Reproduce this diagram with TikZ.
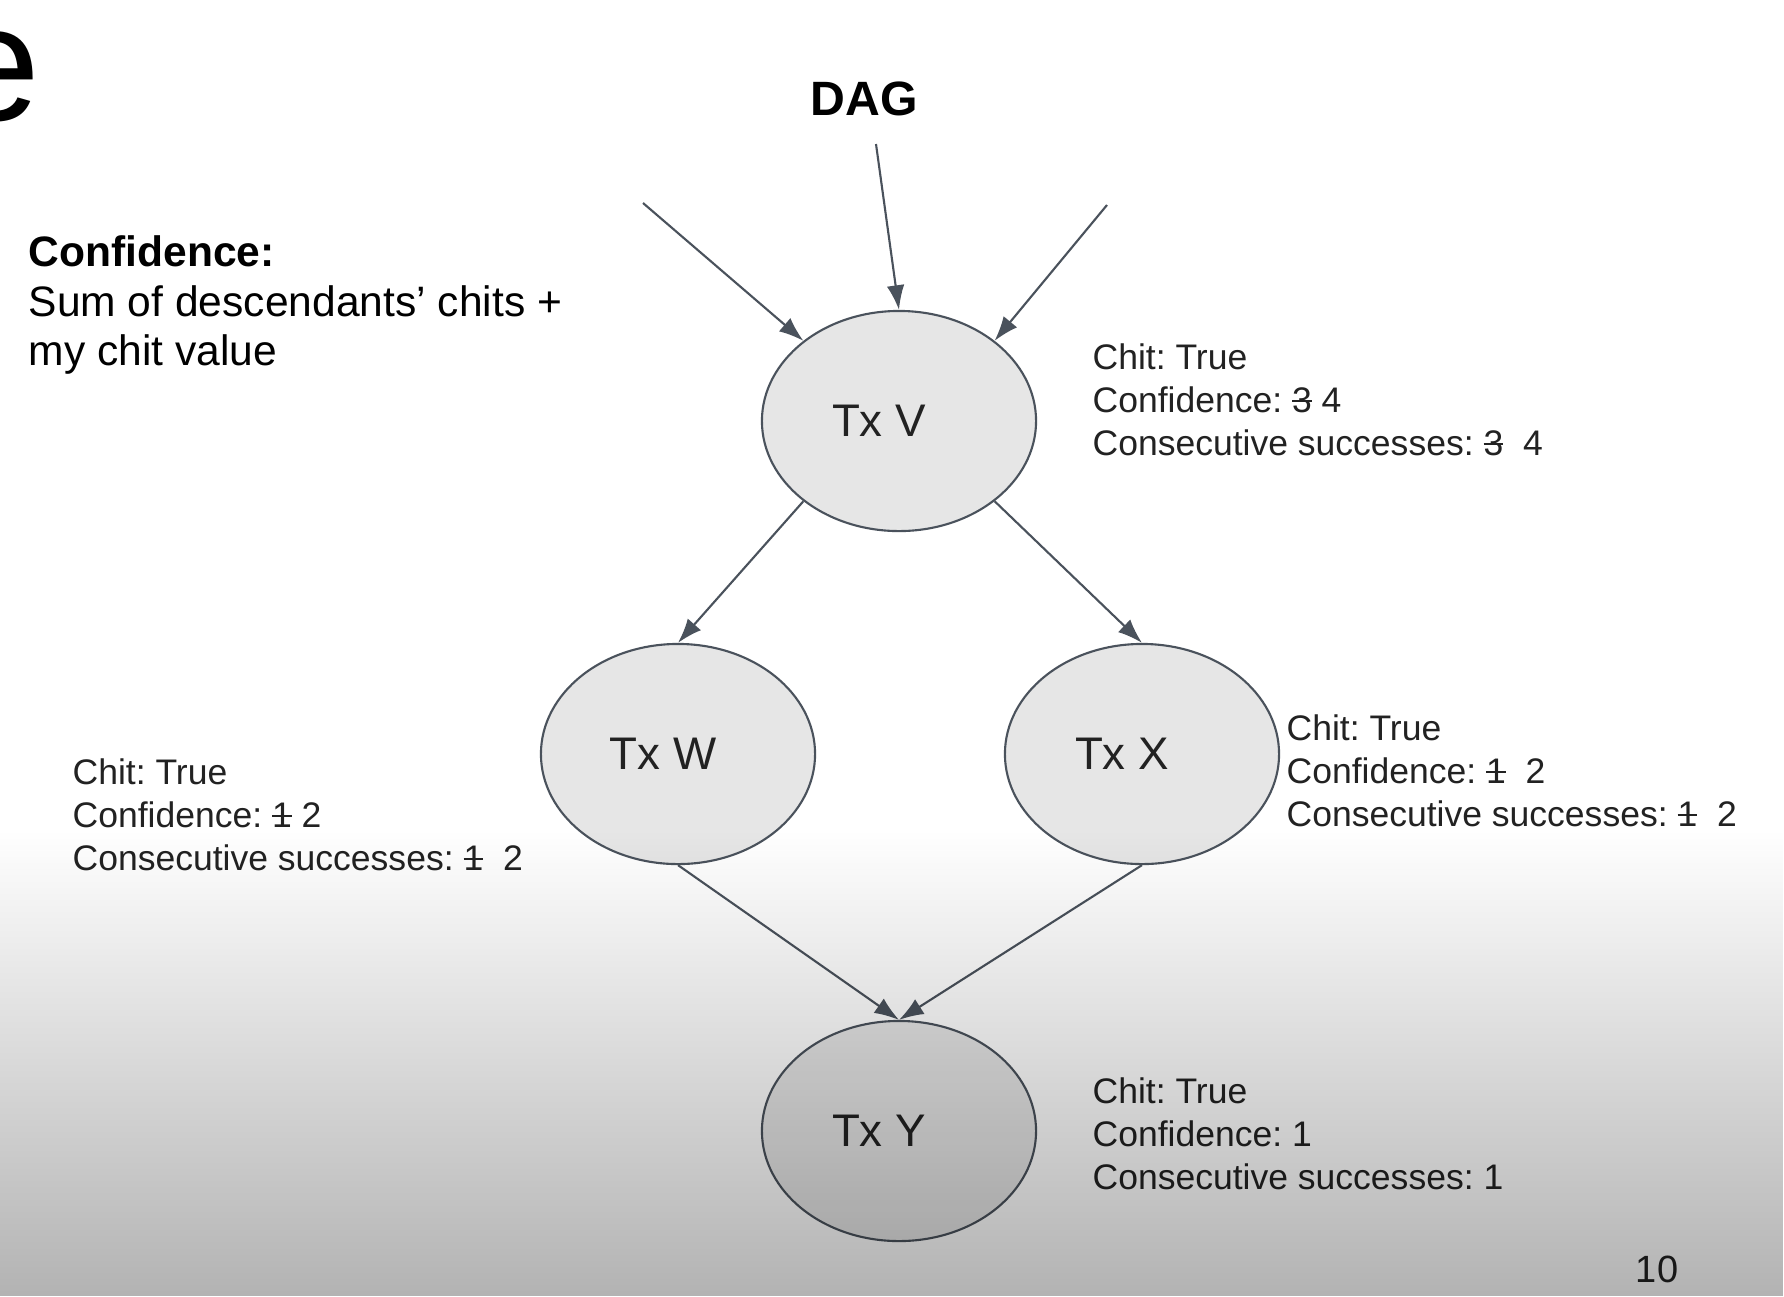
\documentclass[tikz,border=0pt]{standalone}
\usepackage{fontspec}
\setmainfont{Liberation Sans}
\usetikzlibrary{arrows.meta, shapes.geometric, fadings}

\definecolor{edgegray}{HTML}{4A525C}
\definecolor{txfill}{HTML}{E6E6E6}
\definecolor{inkgray}{HTML}{222222}

\frenchspacing
\newcommand{\struck}[1]{\rlap{\rule[0.3em]{0.556em}{0.06em}}#1}

\tikzfading[name = slidefade, top color = transparent!100, bottom color = transparent!70]

\tikzset{
	tx/.style = {ellipse, draw = edgegray, line width = 0.6pt, fill = txfill, text = inkgray,
		minimum width = 2.74cm, minimum height = 2.2cm, inner sep = 0pt, font = \fontsize{13}{15}\selectfont},
	info/.style = {anchor = west, align = left, inner sep = 0pt, text = inkgray, font = \fontsize{10.1}{12.2}\selectfont},
	link/.style = {draw = edgegray, line width = 0.6pt, -{Latex[length = 7pt, width = 5pt]}}
}

\begin{document}
\begin{tikzpicture}[x = 0.01cm, y = -0.01cm]
			\useasboundingbox (0,0) rectangle (1784,1296);
			\clip (0,0) rectangle (1784,1296);
			\fill [white] (0,0) rectangle (1784,1296);

			\begin{scope}
				\node [anchor = base east, inner sep = 0pt, font = \fontsize{47}{50}\selectfont] (title) at (41,120) {e};
				\node [inner sep = 0pt, font = \fontsize{13.7}{16}\selectfont\bfseries] (dag) at (864,99) {DAG};
				\node [info, text = black, font = \fontsize{12.1}{14.2}\selectfont] (rule) at (28,305) {\textbf{Confidence:}\\Sum of descendants’ chits +\\my chit value};
			\end{scope}

			\begin{scope}
				\node [tx] (V) at (899,421) {Tx V\hspace*{0.4cm}};
				\node [tx] (W) at (678,754) {Tx W\hspace*{0.3cm}};
				\node [tx] (X) at (1142,754) {Tx X\hspace*{0.4cm}};
				\node [tx] (Y) at (899,1131) {Tx Y\hspace*{0.4cm}};
			\end{scope}

			\coordinate (inL) at (643,203);
			\coordinate (inM) at (876,144);
			\coordinate (inR) at (1107,205);

			\begin{scope}
				\draw [link] (inL) -- (V.140);
				\draw [link] (inM) -- (V.north);
				\draw [link] (inR) -- (V.40);
				\draw [link] (V.220) -- (W.north);
				\draw [link] (V.320) -- (X.north);
				\draw [link] (W.south) -- (Y.north);
				\draw [link] (X.south) -- (Y.north);
			\end{scope}

			\begin{scope}
				\node [info] (infoV) at (1092,400) {Chit: True\\Confidence: \struck{3} 4\\Consecutive successes: \struck{3}~ 4};
				\node [info] (infoW) at (72,815) {Chit: True\\Confidence: \struck{1} 2\\Consecutive successes: \struck{1}~ 2};
				\node [info] (infoX) at (1286,771) {Chit: True\\Confidence: \struck{1}~ 2\\Consecutive successes: \struck{1}~ 2};
				\node [info] (infoY) at (1092,1134) {Chit: True\\Confidence: 1\\Consecutive successes: 1};
				\node [inner sep = 0pt, text = inkgray, font = \fontsize{10.8}{13}\selectfont] (page) at (1657,1269) {10};
			\end{scope}

			\fill [black, path fading = slidefade] (0,830) rectangle (1784,1296);
		\end{tikzpicture}
\end{document}
